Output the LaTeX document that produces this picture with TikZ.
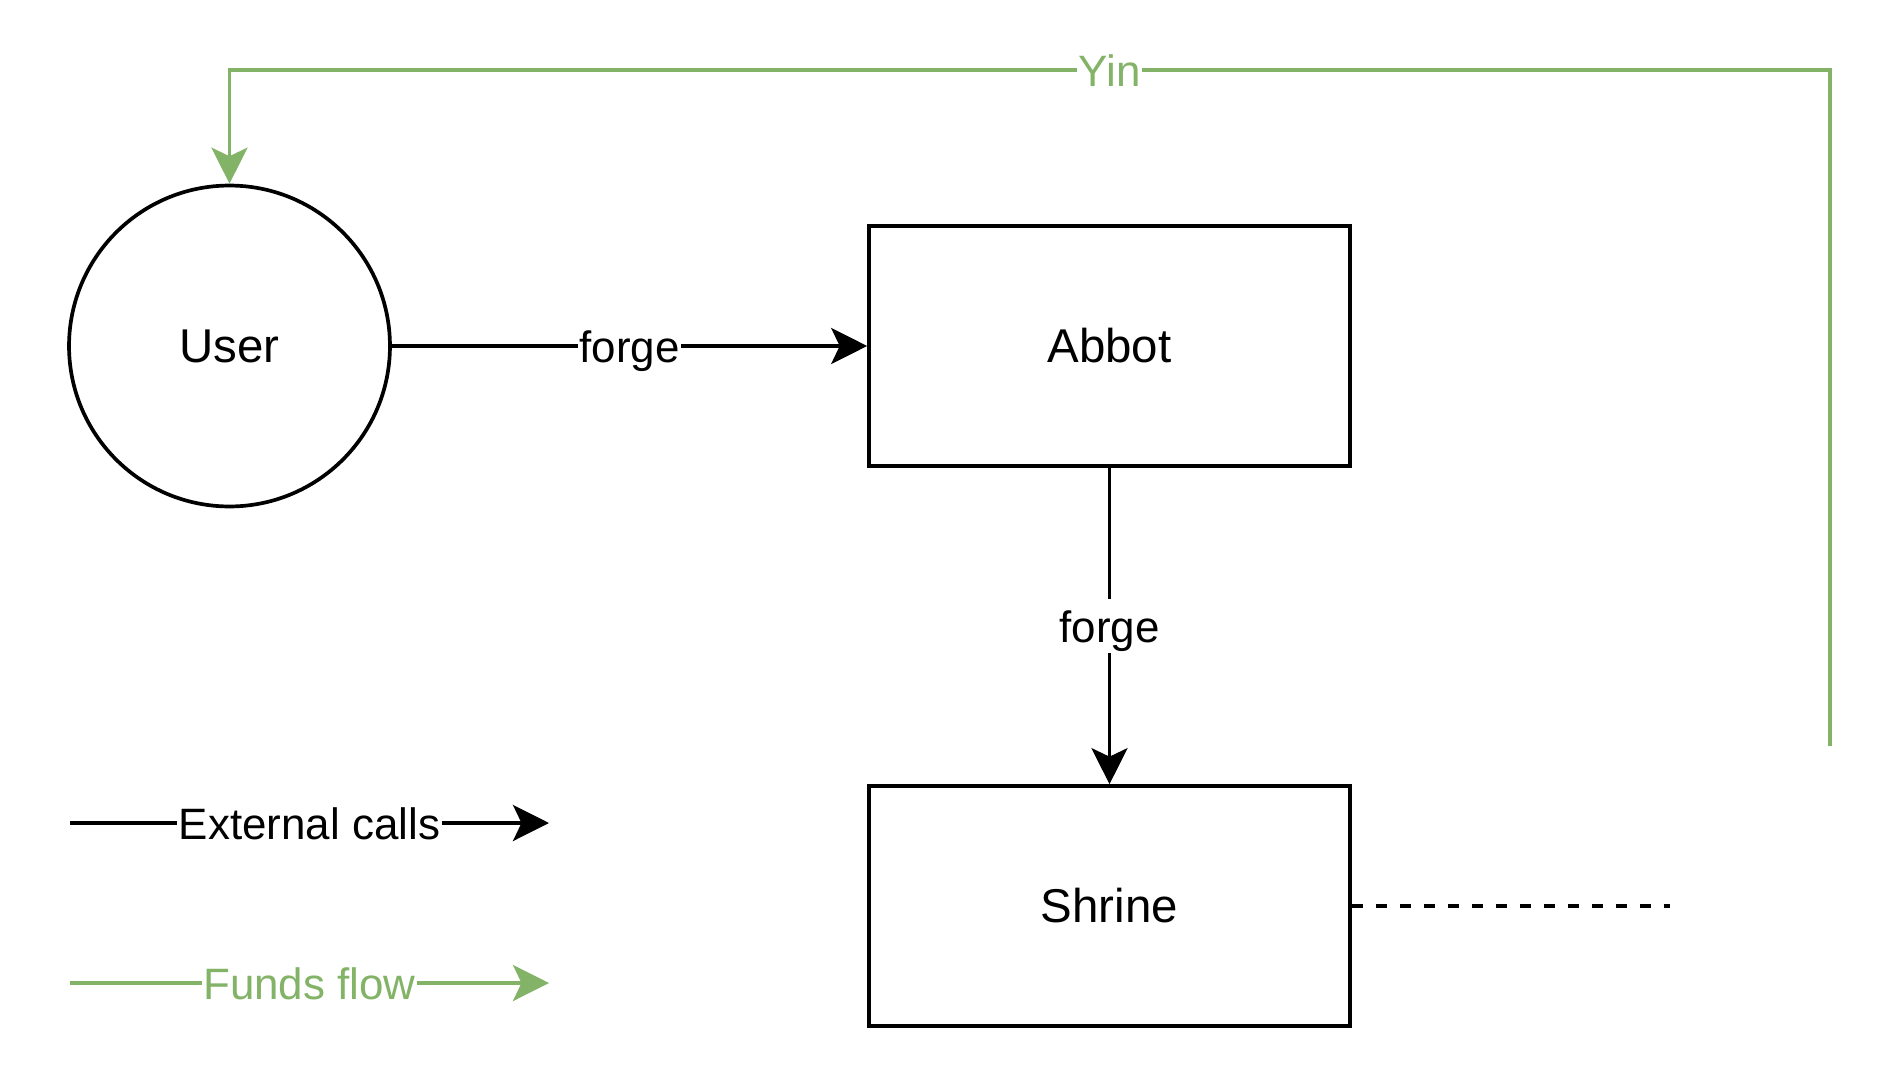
\documentclass[tikz,border=0pt]{standalone}
\usepackage{fontspec}
\setmainfont{Liberation Sans}
\usepackage{tikz}
\usetikzlibrary{arrows.meta}
\definecolor{fundsgreen}{HTML}{82B366}

\tikzset{
  block/.style={draw, line width=2.1pt, minimum width=9.62cm, minimum height=4.8cm, font=\fontsize{27}{32}\selectfont},
  actor/.style={circle, draw, line width=2.1pt, minimum size=6.42cm, font=\fontsize{27}{32}\selectfont},
  call/.style={line width=2.1pt, -{Stealth[length=0.72cm,width=0.72cm,inset=0.17cm]}},
  funds/.style={call, draw=fundsgreen},
  lbl/.style={fill=white, inner xsep=1pt, inner ysep=3pt, text height=22pt, text depth=3pt, font=\fontsize{25}{30}\selectfont},
}

\begin{document}
\begin{tikzpicture}[x=0.02cm, y=-0.02cm]
\useasboundingbox (0,0) rectangle (1904,1068);
%Knoten
\node[actor] (user) at (229.5,346) {User};
\node[block] (abbot) at (1109.5,346) {Abbot};
\node[block] (shrine) at (1109.5,906) {Shrine};

%Koordinaten fuer die freien Enden
\coordinate (yinend) at (1830,746);
\coordinate (yintop) at (1830,70);
\coordinate (dashend) at (1670,906);
\coordinate (ext1) at (70,823);
\coordinate (ext2) at (549,823);
\coordinate (fund1) at (70,983);
\coordinate (fund2) at (549,983);

\draw[call] (user) -- node[lbl]{forge} (abbot);
\draw[call] (abbot) -- node[lbl]{forge} (shrine);
\draw[funds] (yinend) -- (yintop) -| node[lbl, pos=0.225, text=fundsgreen]{Yin} (user);
\draw[line width=2.1pt, dash pattern=on 0.22cm off 0.26cm] (shrine) -- (dashend);

%Legende
\draw[call] (ext1) -- node[lbl]{External calls} (ext2);
\draw[funds] (fund1) -- node[lbl, text=fundsgreen]{Funds flow} (fund2);
\end{tikzpicture}
\end{document}
